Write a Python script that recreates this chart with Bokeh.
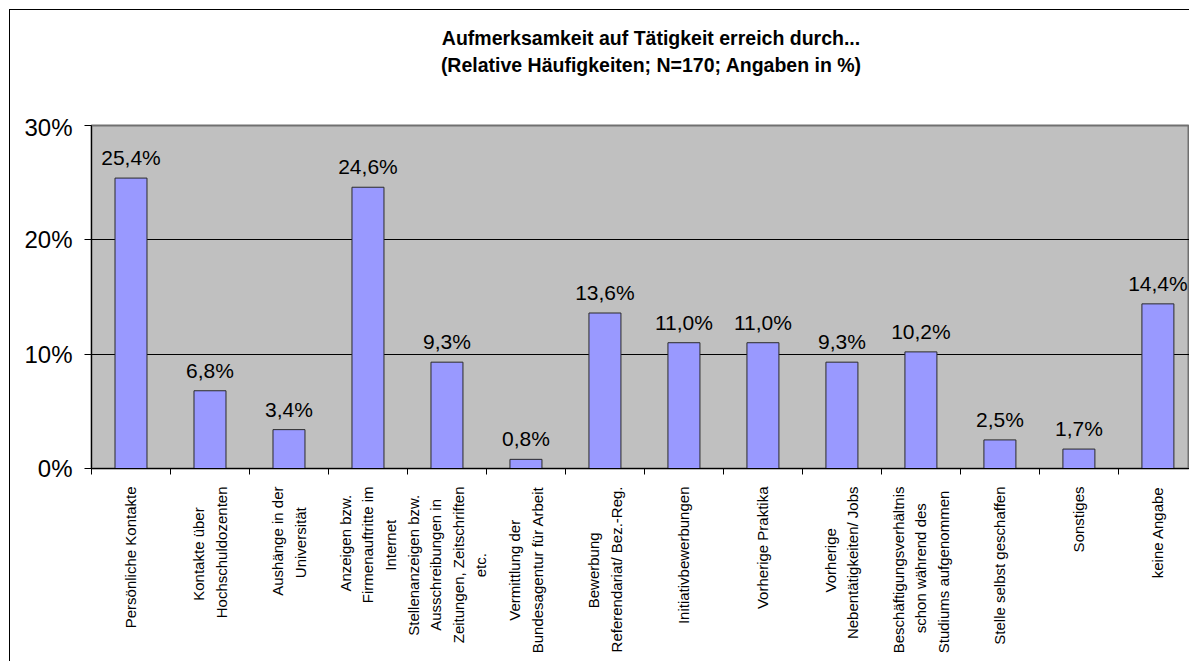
import math
from bokeh.plotting import figure
from bokeh.layouts import column
from bokeh.models import (Range1d, FixedTicker, ColumnDataSource, LabelSet, Div)
from bokeh.core.properties import value
from bokeh.embed import file_html
from bokeh.resources import INLINE

categories = [
    "Persönliche Kontakte",
    "Kontakte über\nHochschuldozenten",
    "Aushänge in der\nUniversität",
    "Anzeigen bzw.\nFirmenauftritte im\nInternet",
    "Stellenanzeigen bzw.\nAusschreibungen in\nZeitungen, Zeitschriften\netc.",
    "Vermittlung der\nBundesagentur für Arbeit",
    "Bewerbung\nReferendariat/ Bez.-Reg.",
    "Initiativbewerbungen",
    "Vorherige Praktika",
    "Vorherige\nNebentätigkeiten/ Jobs",
    "Beschäftigungsverhältnis\nschon während des\nStudiums aufgenommen",
    "Stelle selbst geschaffen",
    "Sonstiges",
    "keine Angabe",
]
values = [25.4, 6.8, 3.4, 24.6, 9.3, 0.8, 13.6, 11.0, 11.0, 9.3, 10.2, 2.5, 1.7, 14.4]
y_ticks = [0, 10, 20, 30]
y_tick_labels = ["0%", "10%", "20%", "30%"]
title_lines = ["Aufmerksamkeit auf Tätigkeit erreich durch...",
               "(Relative Häufigkeiten; N=170; Angaben in %)"]

FONT = "Liberation Sans"
XLAB_SIZE = 15

# Arial / Liberation Sans advance widths (1/1000 em) for measuring label lines
_W = {" ": 278, "\u00a0": 278, ".": 278, ",": 278, "/": 278, "-": 333,
      "a": 556, "b": 556, "c": 500, "d": 556, "e": 556, "f": 278, "g": 556,
      "h": 556, "i": 222, "j": 222, "k": 500, "l": 222, "m": 833, "n": 556,
      "o": 556, "p": 556, "q": 556, "r": 333, "s": 500, "t": 278, "u": 556,
      "v": 500, "w": 722, "x": 500, "y": 500, "z": 500,
      "ä": 556, "ö": 556, "ü": 556, "ß": 611,
      "A": 667, "B": 667, "C": 722, "D": 722, "E": 667, "F": 611, "G": 778,
      "H": 722, "I": 278, "J": 500, "K": 667, "L": 556, "M": 833, "N": 722,
      "O": 778, "P": 667, "R": 722, "S": 667, "T": 611, "U": 722, "V": 667,
      "W": 944, "Z": 611}


def text_len(s, size):
    return sum(_W.get(ch, 556) for ch in s) * size / 1000.0


def centre_lines(label, size):
    """Pad shorter lines with no-break spaces so the lines of a rotated,
    end-aligned tick label appear centred on each other."""
    lines = label.split("\n")
    if len(lines) == 1:
        return label
    nb = text_len("\u00a0", size)
    L = max(text_len(l, size) for l in lines)
    out = []
    for l in lines:
        n = int(round((L - text_len(l, size)) / 2.0 / nb))
        out.append(l + "\u00a0" * n)
    return "\n".join(out)


xs = list(range(len(categories)))
labels = [f"{v:.1f}".replace(".", ",") + "%" for v in values]
src = ColumnDataSource(dict(x=xs, top=values, label=labels))

p = figure(width=1179, height=548, output_backend="svg", toolbar_location=None,
           x_range=Range1d(-0.5, 13.4), y_range=Range1d(0, 30),
           min_border_left=81, min_border_right=0, min_border_top=12,
           min_border_bottom=193)
p.margin = (0, 0, 0, 0)
p.background_fill_color = "#C0C0C0"
p.border_fill_color = "#FFFFFF"
p.outline_line_color = "#707070"
p.outline_line_width = 2

p.vbar(x="x", top="top", width=0.405, bottom=0, source=src,
       fill_color="#9999FF", line_color="#2A2A2A", line_width=1)

# grid
p.xgrid.visible = False
p.ygrid.ticker = FixedTicker(ticks=[10, 20])
p.ygrid.grid_line_color = "#000000"
p.ygrid.grid_line_width = 1

# y axis
p.yaxis.ticker = FixedTicker(ticks=y_ticks)
p.yaxis.major_label_overrides = {t: l for t, l in zip(y_ticks, y_tick_labels)}
p.yaxis.major_label_text_font = FONT
p.yaxis.major_label_text_font_size = "24px"
p.yaxis.major_label_text_color = "#000000"
p.yaxis.major_tick_in = 0
p.yaxis.major_tick_out = 7
p.yaxis.minor_tick_line_color = None
p.yaxis.axis_line_color = "#000000"
p.yaxis.major_tick_line_color = "#000000"
p.yaxis.major_label_standoff = 12

# x axis
p.xaxis.ticker = FixedTicker(ticks=xs, minor_ticks=[i - 0.5 for i in range(len(categories) + 1)])
p.xaxis.major_label_overrides = {i: centre_lines(c, XLAB_SIZE) for i, c in enumerate(categories)}
p.xaxis.major_label_orientation = math.pi / 2
p.xaxis.major_label_text_font = FONT
p.xaxis.major_label_text_font_size = f"{XLAB_SIZE}px"
p.xaxis.major_label_text_color = "#000000"
p.xaxis.major_label_text_line_height = 1.3
p.xaxis.major_tick_in = 0
p.xaxis.major_tick_out = 0
p.xaxis.minor_tick_in = 0
p.xaxis.minor_tick_out = 6
p.xaxis.minor_tick_line_color = "#000000"
p.xaxis.axis_line_color = "#000000"
p.xaxis.major_label_standoff = 12

ls = LabelSet(x="x", y="top", text="label", source=src, text_align="center",
              text_baseline="alphabetic", y_offset=13, text_font=value(FONT),
              text_font_size=value("21px"), text_color="#000000")
p.add_layout(ls)

title_html = (
    '<div style="margin-top:15px; margin-left:103px; width:1076px; '
    'text-align:center; font-family:\'Liberation Sans\', Arial, sans-serif; '
    'font-weight:bold; font-size:19.5px; line-height:27px; color:#000000; '
    'white-space:nowrap;">'
    + title_lines[0] + "<br>" + title_lines[1] + "</div>"
)
title_div = Div(text=title_html, width=1179, height=103, margin=(0, 0, 0, 0))

layout = column(title_div, p, spacing=0)
layout.styles = {"margin-left": "9px", "margin-top": "9px",
                 "border-left": "1px solid #000000", "border-top": "1px solid #000000"}

open("out.html", "w").write(file_html(layout, INLINE))
